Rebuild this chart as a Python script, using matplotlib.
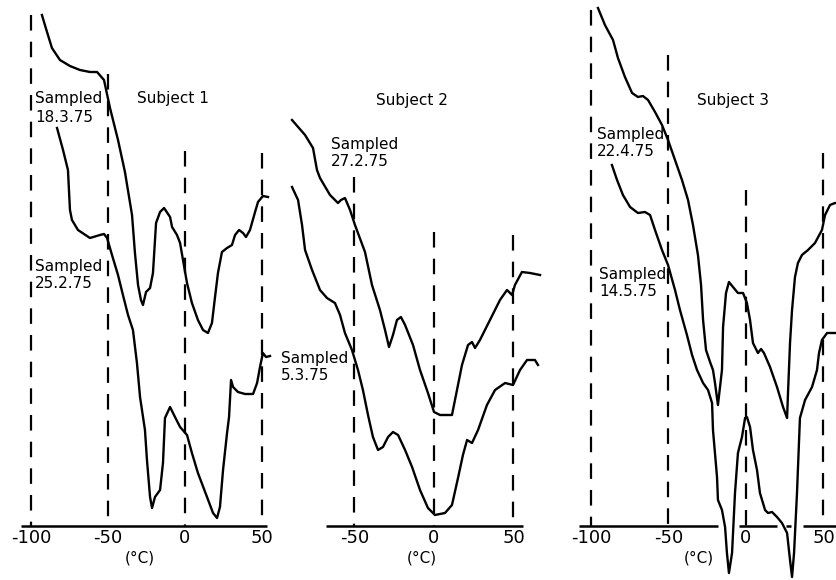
import matplotlib
matplotlib.use("Agg")
import matplotlib.pyplot as plt

# ---------------- data (temperature °C, deflection in arbitrary units) ----------------
s1_upper_T = [-92.9, -89.6, -86.4, -81.2, -74.7, -68.2, -61.7, -57.1, -52.6, -48.7, -43.5, -39.0,
              -34.4, -32.5, -30.5, -28.6, -27.3, -25.3, -22.7, -20.8, -18.8, -16.2, -13.6, -9.7,
              -8.4, -5.2, -3.2, -1.3, 1.3, 4.5, 8.4, 11.7, 14.9, 17.5, 19.5, 21.4, 24.0, 27.3,
              30.5, 32.5, 35.1, 37.7, 39.6, 42.2, 45.5, 47.4, 50.6, 53.9]
s1_upper_y = [511, 494, 478, 466, 460, 456, 454, 454, 446, 418, 386, 354,
              311, 273, 241, 226, 221, 234, 238, 253, 303, 314, 318, 309,
              299, 291, 283, 266, 243, 223, 206, 196, 193, 203, 229, 253, 274, 278,
              281, 291, 296, 293, 289, 296, 314, 324, 330, 329]

s1_lower_T = [-83.1, -79.2, -76.0, -74.7, -73.4, -69.5, -61.7, -55.2, -52.6, -50.6, -47.4, -43.5,
              -40.3, -37.0, -33.8, -31.2, -29.2, -26.0, -24.7, -22.7, -21.4, -19.5, -16.2, -14.3,
              -13.0, -9.7, -6.5, -3.2, 1.3, 4.5, 8.4, 14.3, 18.2, 20.8, 22.7, 24.7, 27.3, 28.6,
              29.9, 31.2, 34.4, 39.0, 44.2, 46.8, 48.7, 50.6, 52.6, 55.2]
s1_lower_y = [398, 376, 356, 316, 306, 296, 288, 291, 292, 288, 271, 251,
              231, 211, 196, 163, 129, 96, 66, 29, 18, 29, 36, 63,
              108, 119, 109, 99, 91, 73, 53, 29, 13, 8, 19, 56, 93, 109,
              146, 139, 134, 132, 132, 143, 159, 173, 169, 170]

s2_upper_T = [-89.3, -81.1, -76.1, -73.6, -71.7, -65.4, -60.4, -58.5, -56.0, -52.8, -49.7, -43.4,
              -39.0, -34.0, -30.8, -28.3, -25.8, -23.3, -20.8, -18.2, -13.2, -8.8, -3.8, 0.0,
              3.8, 11.3, 13.2, 17.6, 21.4, 23.9, 25.8, 28.9, 35.2, 41.5, 45.9, 49.1, 50.9,
              55.3, 60.4, 66.7]
s2_upper_y = [406, 391, 378, 356, 348, 331, 323, 326, 328, 316, 301, 274,
              241, 216, 196, 179, 191, 206, 209, 201, 181, 156, 133, 114,
              111, 111, 126, 161, 181, 184, 178, 186, 206, 226, 236, 231, 241,
              254, 253, 251]

s2_lower_T = [-89.3, -85.5, -83.0, -81.1, -76.7, -71.7, -67.3, -62.3, -59.1, -56.0, -51.6, -47.8,
              -44.7, -41.5, -38.4, -35.2, -32.1, -28.9, -25.8, -22.6, -18.2, -13.8, -8.8, -3.8,
              0.6, 6.9, 11.3, 15.1, 18.2, 20.8, 23.9, 27.7, 33.3, 38.4, 44.7, 49.7, 54.1,
              58.5, 63.5, 65.4]
s2_lower_y = [339, 326, 301, 276, 256, 236, 228, 223, 211, 193, 176, 156,
              136, 111, 89, 76, 79, 89, 94, 91, 76, 59, 36, 18,
              11, 13, 21, 48, 71, 86, 83, 96, 121, 136, 143, 141, 156,
              166, 166, 161]

s3_upper_T = [-95.5, -91.0, -85.8, -82.6, -78.1, -73.5, -69.7, -66.5, -63.2, -58.7, -54.2, -50.3,
              -45.8, -41.3, -37.4, -34.2, -31.0, -29.0, -27.7, -25.8, -23.2, -21.3, -20.0, -18.1,
              -15.5, -14.8, -12.9, -11.0, -8.4, -5.2, -1.9, 0.6, 2.6, 4.5, 7.7, 9.7, 11.6,
              15.5, 20.0, 23.9, 26.5, 27.1, 28.4, 29.7, 31.6, 33.5, 36.1, 40.0, 44.5, 49.0,
              51.0, 54.2, 57.4, 58.7]
s3_upper_y = [518, 501, 486, 468, 449, 433, 429, 430, 426, 414, 401, 386,
              366, 346, 326, 301, 271, 241, 206, 176, 164, 156, 143, 121,
              156, 199, 233, 244, 239, 233, 233, 223, 206, 183, 173, 177, 173,
              159, 139, 119, 108, 133, 183, 216, 249, 263, 271, 276, 283, 296,
              311, 321, 323, 323]

s3_lower_T = [-86.5, -83.2, -79.4, -74.8, -69.7, -65.2, -61.9, -58.7, -54.2, -50.3, -45.8, -42.6,
              -38.1, -34.8, -31.6, -27.7, -24.5, -21.9, -21.3, -18.7, -18.1, -15.5, -13.5, -12.3,
              -11.0, -9.0, -7.1, -5.2, -2.6, -0.6, 0.6, 2.6, 4.5, 7.1, 9.0, 12.3, 14.2, 16.8,
              20.0, 23.2, 26.5, 28.4, 29.7, 31.0, 32.9, 34.8, 38.1, 42.6, 45.8, 47.1, 49.0,
              52.3, 55.5, 58.7]
s3_lower_y = [361, 346, 331, 319, 313, 314, 311, 296, 276, 261, 236, 216,
              191, 171, 156, 143, 136, 123, 96, 49, 26, 16, -1, -27,
              -47, -27, 33, 73, 89, 108, 109, 99, 76, 56, 33, 16, 13, 14,
              9, 3, -7, -34, -51, -27, 33, 108, 126, 139, 156, 173, 186,
              193, 193, 193]

tick_values = [-100, -50, 0, 50]
tick_labels = ["-100", "-50", "0", "50"]

panels = [
    dict(title="Subject 1",
         curves=[(s1_upper_T, s1_upper_y), (s1_lower_T, s1_lower_y)],
         labels=["Sampled\n18.3.75", "Sampled\n25.2.75"],
         ticks=[-100, -50, 0, 50]),
    dict(title="Subject 2",
         curves=[(s2_upper_T, s2_upper_y), (s2_lower_T, s2_lower_y)],
         labels=["Sampled\n27.2.75", "Sampled\n5.3.75"],
         ticks=[-50, 0, 50]),
    dict(title="Subject 3",
         curves=[(s3_upper_T, s3_upper_y), (s3_lower_T, s3_lower_y)],
         labels=["Sampled\n22.4.75", "Sampled\n14.5.75"],
         ticks=[-100, -50, 0, 50]),
]

# ---------------- layout ----------------
W, H = 837, 580
BASE = 526          # pixel row of the baseline
fig = plt.figure(figsize=(W / 100, H / 100), dpi=100)
fig.patch.set_facecolor("white")

# per panel: pixel x-span, pixel x of 0 °C, px per °C
geom = [(0, 280, 185, 1.54), (280, 560, 434, 1.59), (560, 837, 746, 1.55)]
guide_tops = [{-100: 511, -50: 452, 0: 375, 50: 373},
              {-50: 349, 0: 294, 50: 291},
              {-100: 516, -50: 471, 0: 336, 50: 373}]
axis_segments = [[(-106.5, 53.5)], [(-68.0, 56.0)],
                 [(-107.7, -18.1), (-4.5, 20.0), (25.8, 29.0), (36.8, 58.7)]]
title_pos = [(-7.8, 427), (-13.8, 426), (-8.4, 426)]
label_pos = [[(-97.4, 418), (-97.4, 251)],
             [(-64.8, 373), (-96.2, 159)],
             [(-96.1, 383), (-94.8, 243)]]
unit_x = [-29.2, -7.5, -30.3]

FONT = "DejaVu Sans"
for i, p in enumerate(panels):
    x0, x1, xz, sc = geom[i]
    ax = fig.add_axes([x0 / W, (H - BASE) / H, (x1 - x0) / W, BASE / H])
    ax.set_xlim((x0 - xz) / sc, (x1 - xz) / sc)
    ax.set_ylim(0, BASE)
    for sp in ax.spines.values():
        sp.set_visible(False)
    ax.set_yticks([])
    ax.set_xticks(p["ticks"])
    ax.set_xticklabels([tick_labels[tick_values.index(t)] for t in p["ticks"]],
                       fontsize=13, family=FONT)
    ax.tick_params(axis="x", length=0, pad=2)
    ax.patch.set_alpha(0)

    # baseline
    for a, b in axis_segments[i]:
        ax.plot([a, b], [0, 0], color="black", lw=1.8, clip_on=False, solid_capstyle="butt")
    # dashed guide lines
    for t, top in guide_tops[i].items():
        ax.plot([t, t], [top, 0], color="black", lw=1.6, ls=(0, (7, 5)), clip_on=False)
    # curves
    for T, y in p["curves"]:
        ax.plot(T, y, color="black", lw=1.7, clip_on=False, solid_joinstyle="round")

    ax.text(title_pos[i][0], title_pos[i][1], p["title"], ha="center", va="center",
            fontsize=11, family=FONT)
    for (lx, ly), lab in zip(label_pos[i], p["labels"]):
        ax.text(lx, ly, lab, ha="left", va="center", fontsize=11, family=FONT,
                linespacing=1.25)
    ax.text(unit_x[i], -32, "(°C)", ha="center", va="center", fontsize=11, family=FONT)

fig.savefig("out.png", dpi=100, facecolor="white")
